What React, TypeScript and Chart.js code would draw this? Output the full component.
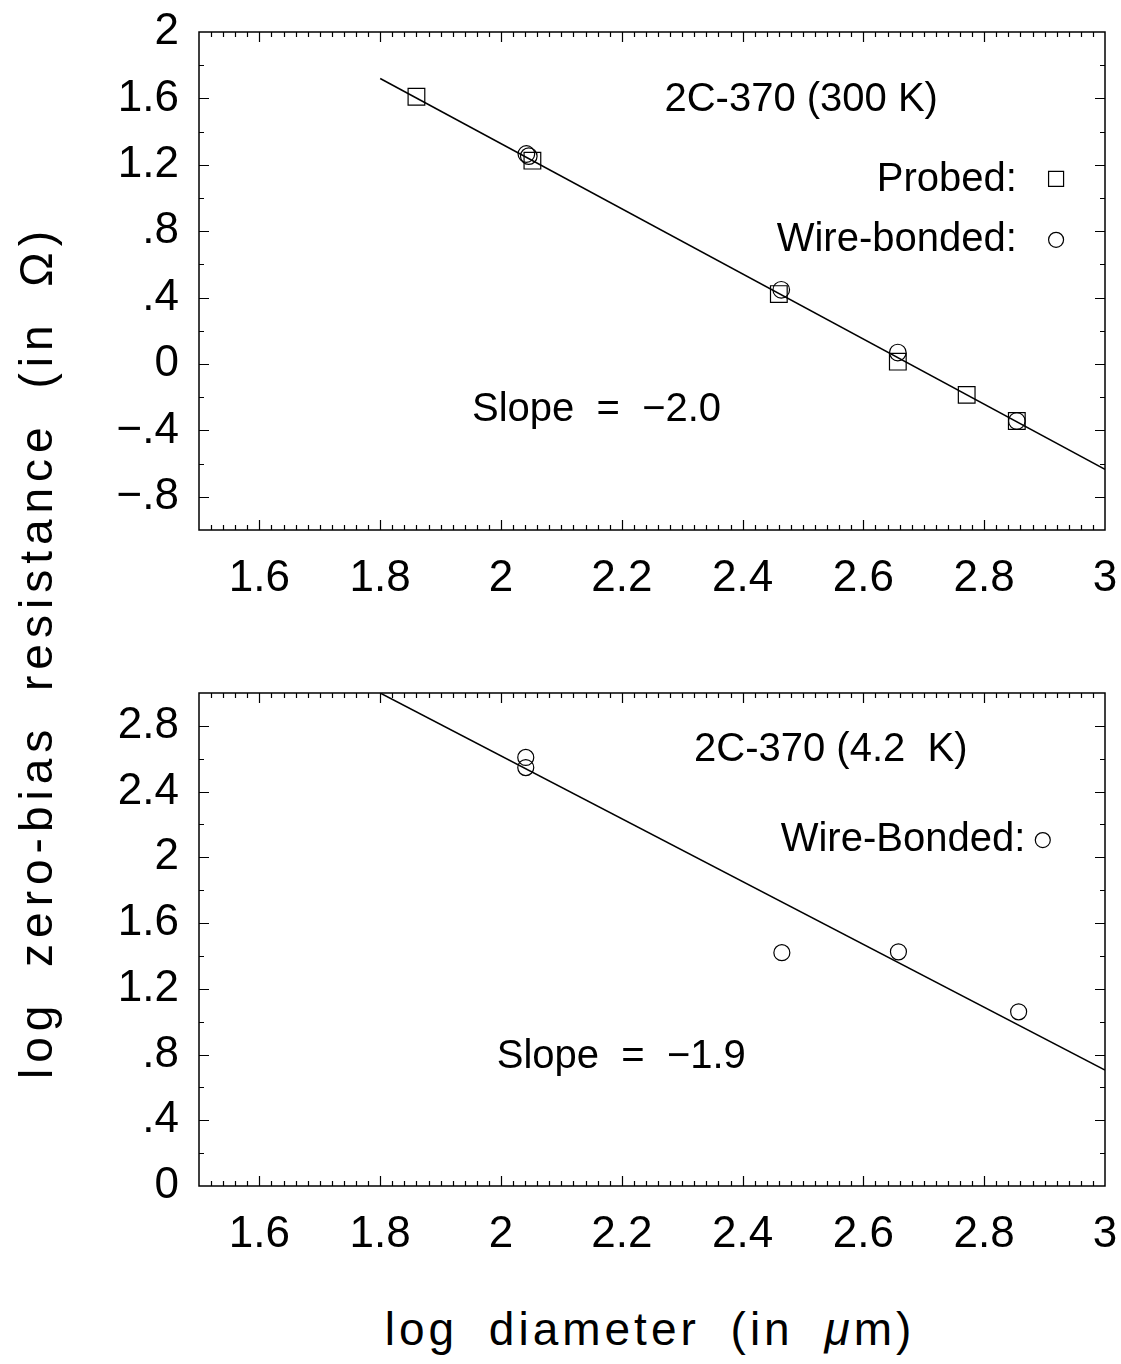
import React, { useEffect, useRef } from "react";
import { Chart, registerables } from "chart.js";

Chart.register(...registerables);

// ---------- data ----------
const xTickValues = [1.6, 1.8, 2.0, 2.2, 2.4, 2.6, 2.8, 3.0];
const topYTickValues = [2, 1.6, 1.2, 0.8, 0.4, 0, -0.4, -0.8];
const bottomYTickValues = [2.8, 2.4, 2.0, 1.6, 1.2, 0.8, 0.4, 0];

// Top panel (300 K)
const topProbedX = [1.86, 2.052, 2.46, 2.657, 2.771, 2.854];
const topProbedY = [1.61, 1.225, 0.421, 0.014, -0.186, -0.343];
const topWireX = [2.042, 2.046, 2.464, 2.657, 2.854];
const topWireY = [1.265, 1.252, 0.447, 0.069, -0.343];
const topFitX = [1.8, 3.0];
const topFitY = [1.72, -0.635];

// Bottom panel (4.2 K)
const bottomWireX = [2.041, 2.041, 2.465, 2.658, 2.857];
const bottomWireY = [2.608, 2.546, 1.42, 1.425, 1.06];
const bottomFitX = [1.8, 3.0];
const bottomFitY = [3.0, 0.705];

const FONT = "'Liberation Sans', Arial, Helvetica, sans-serif";

type TextItem = { text: string; x: number; y: number; align: CanvasTextAlign };
type MarkerItem = { style: "rect" | "circle"; x: number; y: number; size: number };

function fmt(v: number): string {
  const r = Math.round(v * 10) / 10;
  if (r === 0) return "0";
  const neg = r < 0;
  let s = Number.isInteger(r) ? String(Math.abs(r)) : Math.abs(r).toFixed(1);
  if (s.startsWith("0.")) s = s.slice(1);
  return (neg ? "\u2212" : "") + s;
}

const framePlugin = {
  id: "frameTicks",
  afterDraw(chart: any, _args: any, opts: any) {
    const { ctx, chartArea: a, scales } = chart;
    const xs = scales.x;
    const ys = scales.y;
    ctx.save();
    ctx.strokeStyle = "#000";
    ctx.lineWidth = 1.5;
    ctx.strokeRect(a.left, a.top, a.right - a.left, a.bottom - a.top);

    const MAJ = 10;
    const MIN = 5;
    ctx.lineWidth = 1.2;
    const near = (v: number, arr: number[]) => arr.some((m) => Math.abs(m - v) < 1e-6);

    const xMaj: number[] = opts.xMajors;
    const nx = Math.round((xs.max - xs.min) / opts.xMinorStep);
    for (let i = 1; i < nx; i++) {
      const v = xs.min + i * opts.xMinorStep;
      const px = Math.round(xs.getPixelForValue(v)) + 0.5;
      const len = near(v, xMaj) ? MAJ : MIN;
      ctx.beginPath();
      ctx.moveTo(px, a.bottom);
      ctx.lineTo(px, a.bottom - len);
      ctx.moveTo(px, a.top);
      ctx.lineTo(px, a.top + len);
      ctx.stroke();
    }
    const yMaj: number[] = opts.yMajors;
    const ny = Math.round((ys.max - ys.min) / opts.yMinorStep);
    for (let i = 1; i < ny; i++) {
      const v = ys.min + i * opts.yMinorStep;
      const py = Math.round(ys.getPixelForValue(v)) + 0.5;
      const len = near(v, yMaj) ? MAJ : MIN;
      ctx.beginPath();
      ctx.moveTo(a.left, py);
      ctx.lineTo(a.left + len, py);
      ctx.moveTo(a.right, py);
      ctx.lineTo(a.right - len, py);
      ctx.stroke();
    }

    ctx.fillStyle = "#000";
    ctx.font = `40px ${FONT}`;
    ctx.textBaseline = "middle";
    (opts.texts as TextItem[]).forEach((t) => {
      ctx.textAlign = t.align;
      ctx.fillText(t.text, xs.getPixelForValue(t.x), ys.getPixelForValue(t.y));
    });

    ctx.lineWidth = 1.2;
    (opts.markers as MarkerItem[]).forEach((m) => {
      const px = xs.getPixelForValue(m.x);
      const py = ys.getPixelForValue(m.y);
      ctx.beginPath();
      if (m.style === "rect") {
        ctx.rect(px - m.size / 2, py - m.size / 2, m.size, m.size);
      } else {
        ctx.arc(px, py, m.size / 2, 0, Math.PI * 2);
      }
      ctx.stroke();
    });
    ctx.restore();
  },
};

function makeConfig(p: {
  datasets: any[];
  yMin: number;
  yMax: number;
  yTicks: number[];
  texts: TextItem[];
  markers: MarkerItem[];
  padTop: number;
}) {
  return {
    type: "scatter",
    data: { datasets: p.datasets },
    plugins: [framePlugin],
    options: {
      animation: false,
      responsive: false,
      events: [],
      layout: { padding: { top: p.padTop, right: 16, left: 0, bottom: 0 } },
      plugins: {
        legend: { display: false },
        tooltip: { enabled: false },
        frameTicks: {
          xMajors: xTickValues,
          yMajors: p.yTicks,
          xMinorStep: 0.02,
          yMinorStep: 0.2,
          texts: p.texts,
          markers: p.markers,
        },
      },
      scales: {
        x: {
          type: "linear",
          min: 1.5,
          max: 3.0,
          grid: { display: false, drawTicks: false },
          border: { display: false },
          afterBuildTicks: (s: any) => {
            s.ticks = xTickValues.map((v) => ({ value: v }));
          },
          afterFit: (s: any) => {
            s.height = 90;
            s.paddingLeft = 0;
            s.paddingRight = 0;
          },
          ticks: {
            autoSkip: false,
            maxRotation: 0,
            padding: 22,
            color: "#000",
            font: { size: 44, family: FONT },
            callback: (v: number) => fmt(v),
          },
        },
        y: {
          type: "linear",
          min: p.yMin,
          max: p.yMax,
          grid: { display: false, drawTicks: false },
          border: { display: false },
          afterBuildTicks: (s: any) => {
            s.ticks = p.yTicks.map((v) => ({ value: v }));
          },
          afterFit: (s: any) => {
            s.width = 199;
            s.paddingTop = 0;
            s.paddingBottom = 0;
          },
          ticks: {
            autoSkip: false,
            padding: 20,
            color: "#000",
            font: { size: 44, family: FONT },
            callback: (v: number) => fmt(v),
          },
        },
      },
    },
  };
}

const pts = (xs: number[], ys: number[]) => xs.map((x, i) => ({ x, y: ys[i] }));

const lineDs = (xs: number[], ys: number[]) => ({
  type: "line",
  data: pts(xs, ys),
  showLine: true,
  borderColor: "#000",
  borderWidth: 1.5,
  pointRadius: 0,
  fill: false,
});

const markerDs = (xs: number[], ys: number[], style: string, radius: number) => ({
  data: pts(xs, ys),
  showLine: false,
  pointStyle: style,
  pointRadius: radius,
  pointBorderColor: "#000",
  pointBackgroundColor: "rgba(0,0,0,0)",
  pointBorderWidth: 1.2,
});

function PanelChart(props: { config: any; top: number; height: number }) {
  const ref = useRef<HTMLCanvasElement | null>(null);
  useEffect(() => {
    if (!ref.current) return;
    const chart = new Chart(ref.current, props.config);
    return () => chart.destroy();
  }, []);
  return (
    <canvas
      ref={ref}
      width={1121}
      height={props.height}
      style={{ position: "absolute", left: 0, top: props.top, width: 1121, height: props.height, display: "block" }}
    />
  );
}

export default function App() {
  const topConfig = makeConfig({
    datasets: [
      lineDs(topFitX, topFitY),
      markerDs(topProbedX, topProbedY, "rect", 11.8),
      markerDs(topWireX, topWireY, "circle", 8.3),
    ],
    yMin: -1,
    yMax: 2,
    yTicks: topYTickValues,
    padTop: 32,
    texts: [
      { text: "2C-370 (300 K)", x: 2.497, y: 1.593, align: "center" },
      { text: "Probed:", x: 2.854, y: 1.11, align: "right" },
      { text: "Wire-bonded:", x: 2.854, y: 0.749, align: "right" },
      { text: "Slope  =  \u22122.0", x: 1.952, y: -0.277, align: "left" },
    ],
    markers: [
      { style: "rect", x: 2.919, y: 1.115, size: 15 },
      { style: "circle", x: 2.919, y: 0.748, size: 15 },
    ],
  });

  const bottomConfig = makeConfig({
    datasets: [lineDs(bottomFitX, bottomFitY), markerDs(bottomWireX, bottomWireY, "circle", 8)],
    yMin: 0,
    yMax: 3,
    yTicks: bottomYTickValues,
    padTop: 33,
    texts: [
      { text: "2C-370 (4.2  K)", x: 2.546, y: 2.653, align: "center" },
      { text: "Wire-Bonded:", x: 2.868, y: 2.105, align: "right" },
      { text: "Slope  =  \u22121.9", x: 1.993, y: 0.785, align: "left" },
    ],
    markers: [{ style: "circle", x: 2.897, y: 2.105, size: 15 }],
  });

  return (
    <div style={{ position: "absolute", left: 0, top: 0, width: 1121, height: 1364, background: "#fff", overflow: "hidden" }}>
      <PanelChart config={topConfig} top={0} height={620} />
      <PanelChart config={bottomConfig} top={660} height={616} />
      <div
        style={{
          position: "absolute",
          left: 36 - 500,
          top: 652 - 23,
          width: 1000,
          height: 46,
          lineHeight: "46px",
          fontSize: 46,
          fontFamily: FONT,
          letterSpacing: "6px",
          wordSpacing: "14px",
          textAlign: "center",
          whiteSpace: "nowrap",
          transform: "rotate(-90deg)",
          transformOrigin: "50% 50%",
          color: "#000",
        }}
      >
        log zero-bias resistance (in Ω)
      </div>
      <div
        style={{
          position: "absolute",
          left: 250,
          top: 1306,
          width: 800,
          height: 46,
          lineHeight: "46px",
          fontSize: 46,
          fontFamily: FONT,
          letterSpacing: "4px",
          wordSpacing: "14px",
          textAlign: "center",
          whiteSpace: "nowrap",
          color: "#000",
        }}
      >
        log diameter (in <i>μ</i>m)
      </div>
    </div>
  );
}
